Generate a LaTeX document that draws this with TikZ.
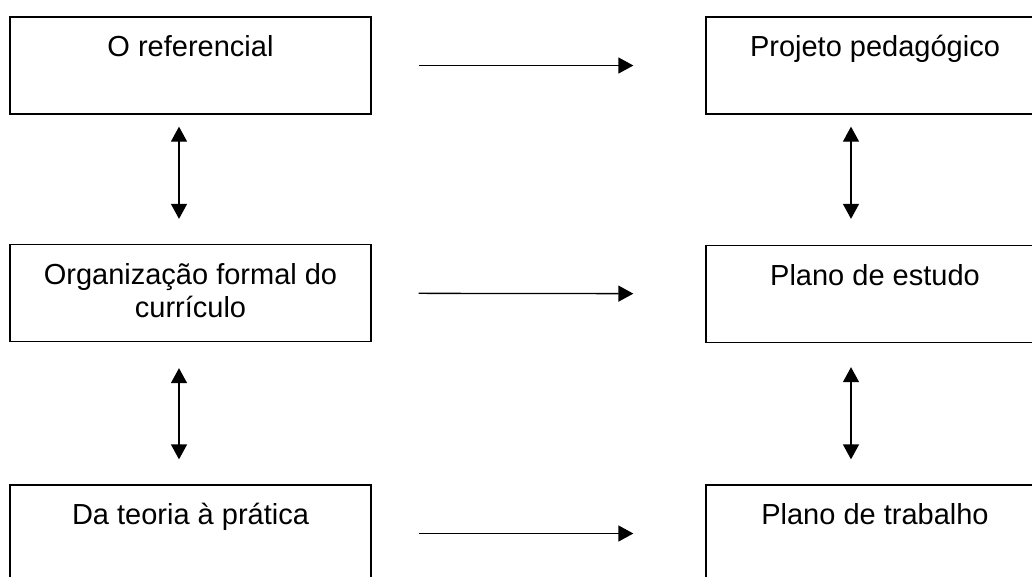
\documentclass[tikz,border=0pt]{standalone}
\usepackage{fontspec}
\setmainfont{Liberation Sans}
\usetikzlibrary{arrows.meta,positioning}
\newcommand{\padline}{\rule[-6pt]{0pt}{6pt}}

\begin{document}
\begin{tikzpicture}[
		x={(1pt,0pt)},
		y={(0pt,-1pt)},
		box/.style={draw=black,line width=1.3pt,align=center,minimum height=97pt,inner sep=0pt,font=\fontsize{29}{33}\selectfont},
		lbox/.style={box,minimum width=361pt},
		rbox/.style={box,minimum width=338pt},
		flow/.style={line width=1.3pt,-{Triangle[length=15pt,width=16pt]}},
		both/.style={line width=1.3pt,{Triangle[length=15pt,width=16pt]}-{Triangle[length=15pt,width=16pt]}},
	]
		\clip (0,0) rectangle (1032,576);
		
		\node[lbox] (ref) at (190.5,65.5) {O referencial\\\padline};
		\node[lbox] (org) at (190.5,293) {Organização formal do\\currículo\padline};
		\node[lbox] (prat) at (190.5,533.5) {Da teoria à prática\\\padline};
		
		\node[rbox] (proj) at (875,65.5) {Projeto pedagógico\\\padline};
		\node[rbox] (est) at (875,294) {Plano de estudo\\\padline};
		\node[rbox] (trab) at (875,533.5) {Plano de trabalho\\\padline};
		
		\foreach \a/\b in {ref/proj, org/est, prat/trab}{
			\draw[flow,shorten <=47pt,shorten >=72pt] (\a) -- (\b);
		}
		
		\draw[both,shorten <=12pt,shorten >=25pt] ([xshift=-11.5pt]ref.south) -- ([xshift=-11.5pt]org.north);
		\draw[both,shorten <=26pt,shorten >=25pt] ([xshift=-11.5pt]org.south) -- ([xshift=-11.5pt]prat.north);
		\draw[both,shorten <=12pt,shorten >=26pt] ([xshift=-24pt]proj.south) -- ([xshift=-24pt]est.north);
		\draw[both,shorten <=24pt,shorten >=25pt] ([xshift=-24pt]est.south) -- ([xshift=-24pt]trab.north);
	\end{tikzpicture}
\end{document}
